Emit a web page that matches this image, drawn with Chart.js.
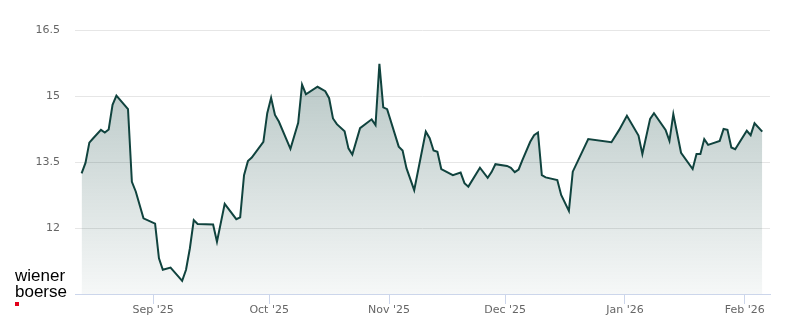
<!DOCTYPE html>
<html>
<head>
<meta charset="utf-8">
<script src="https://cdn.jsdelivr.net/npm/chart.js@4.4.1/dist/chart.umd.min.js"></script>
<style>
  html, body { margin: 0; padding: 0; background: #fff; }
  #wrap { position: relative; width: 800px; height: 324px; }
  #logo { position: absolute; left: 15px; top: 268px; font-family: "Liberation Sans", Arial, sans-serif; font-size: 17px; line-height: 16px; color: #000; }
  #logo .dot { position: absolute; left: 0; top: 34px; width: 4px; height: 4px; background: #e2001a; }
</style>
</head>
<body>
<div id="wrap">
  <canvas id="c" width="800" height="324"></canvas>
  <div id="logo">wiener<br>boerse<div class="dot"></div></div>
</div>
<script>
// Dates of the price points
const dates = [
  "2025-08-13","2025-08-14","2025-08-15","2025-08-16","2025-08-18","2025-08-19","2025-08-20","2025-08-21","2025-08-22","2025-08-25","2025-08-26","2025-08-27","2025-08-29",
  "2025-09-01","2025-09-02","2025-09-03","2025-09-05","2025-09-08","2025-09-09","2025-09-10","2025-09-11","2025-09-12","2025-09-16","2025-09-17","2025-09-19","2025-09-22","2025-09-23","2025-09-24","2025-09-25","2025-09-26","2025-09-29","2025-09-30",
  "2025-10-01","2025-10-02","2025-10-03","2025-10-06","2025-10-08","2025-10-09","2025-10-10","2025-10-13","2025-10-15","2025-10-16","2025-10-17","2025-10-18","2025-10-20","2025-10-21","2025-10-22","2025-10-24","2025-10-27","2025-10-28","2025-10-29","2025-10-30","2025-10-31",
  "2025-11-03","2025-11-04","2025-11-05","2025-11-07","2025-11-10","2025-11-11","2025-11-12","2025-11-13","2025-11-14","2025-11-17","2025-11-19","2025-11-20","2025-11-21","2025-11-24","2025-11-26","2025-11-27","2025-11-28",
  "2025-12-01","2025-12-02","2025-12-03","2025-12-04","2025-12-05","2025-12-07","2025-12-08","2025-12-09","2025-12-10","2025-12-11","2025-12-14","2025-12-15","2025-12-17","2025-12-18","2025-12-22","2025-12-28","2025-12-30",
  "2026-01-01","2026-01-04","2026-01-05","2026-01-07","2026-01-08","2026-01-11","2026-01-12","2026-01-13","2026-01-15","2026-01-18","2026-01-19","2026-01-20","2026-01-21","2026-01-22","2026-01-25","2026-01-26","2026-01-27","2026-01-28","2026-01-29",
  "2026-02-01","2026-02-02","2026-02-03","2026-02-05"
];
// Closing prices
const prices = [
  13.24,13.48,13.94,14.04,14.23,14.17,14.24,14.80,15.01,14.70,13.05,12.83,12.22,
  12.10,11.31,11.05,11.10,10.80,11.05,11.54,12.18,12.09,12.08,11.69,12.55,12.20,12.24,13.20,13.52,13.60,13.96,14.61,
  14.96,14.57,14.42,13.80,14.39,15.26,15.04,15.21,15.11,14.95,14.49,14.36,14.20,13.81,13.67,14.27,14.47,14.34,15.73,14.74,14.70,
  13.85,13.76,13.36,12.86,14.19,14.04,13.76,13.73,13.34,13.20,13.26,13.02,12.94,13.37,13.14,13.27,13.45,
  13.41,13.37,13.27,13.33,13.55,13.96,14.11,14.17,13.20,13.15,13.09,12.75,12.39,13.28,14.02,13.95,14.23,
  14.55,14.10,13.68,14.48,14.61,14.23,13.98,14.59,13.71,13.34,13.68,13.68,14.02,13.89,13.98,14.25,14.23,13.83,13.79,
  14.21,14.11,14.38,14.19
];
// X-axis ticks (month starts) and labels
const tickDates = ["2025-09-01","2025-10-01","2025-11-01","2025-12-01","2026-01-01","2026-02-01"];
const tickLabels = ["Sep '25","Oct '25","Nov '25","Dec '25","Jan '26","Feb '26"];
// Y-axis ticks
const yTicks = [10.5, 12, 13.5, 15, 16.5];
const yTickLabels = ["", "12", "13.5", "15", "16.5"];
const xRange = ["2025-08-11T19:00", "2026-02-07T12:00"];

function toMs(s, noon) {
  const p = s.split(/[-T:]/).map(Number);
  return Date.UTC(p[0], p[1] - 1, p[2], p.length > 3 ? p[3] : (noon ? 12 : 0), p.length > 4 ? p[4] : 0);
}
const points = dates.map((d, i) => ({ x: toMs(d, true), y: prices[i] }));
const tickMs = tickDates.map(d => toMs(d, false));

const lineColor = "rgb(16,67,62)";
new Chart(document.getElementById("c"), {
  type: "line",
  data: {
    datasets: [{
      data: points,
      borderColor: lineColor,
      borderWidth: 2,
      pointRadius: 0,
      tension: 0,
      fill: "start",
      backgroundColor: (ctx) => {
        const ca = ctx.chart.chartArea;
        if (!ca) return "rgba(16,67,62,0.2)";
        const g = ctx.chart.ctx.createLinearGradient(0, ca.top, 0, ca.bottom);
        g.addColorStop(0, "rgba(16,67,62,0.34)");
        g.addColorStop(1, "rgba(16,67,62,0.04)");
        return g;
      }
    }]
  },
  options: {
    responsive: false,
    animation: false,
    devicePixelRatio: 1,
    layout: { padding: { top: 30, right: 30, left: 0, bottom: 0 } },
    plugins: { legend: { display: false }, tooltip: { enabled: false } },
    scales: {
      x: {
        type: "linear",
        min: toMs(xRange[0], false),
        max: toMs(xRange[1], false),
        afterBuildTicks: (s) => { s.ticks = tickMs.map(v => ({ value: v })); },
        afterFit: (s) => { s.height = 30; },
        ticks: {
          autoSkip: false,
          maxRotation: 0,
          padding: 0,
          color: "#666666",
          font: { family: "DejaVu Sans", size: 11 },
          callback: (v) => { const i = tickMs.indexOf(v); return i >= 0 ? tickLabels[i] : ""; }
        },
        grid: { drawOnChartArea: false, tickLength: 10, color: "#ccd6eb", lineWidth: 1 },
        border: { display: true, color: "#ccd6eb", width: 1 }
      },
      y: {
        min: yTicks[0],
        max: yTicks[yTicks.length - 1],
        afterBuildTicks: (s) => { s.ticks = yTicks.map(v => ({ value: v })); },
        afterFit: (s) => { s.width = 75; },
        ticks: {
          padding: 15,
          color: "#666666",
          font: { family: "DejaVu Sans", size: 11 },
          callback: (v) => { const i = yTicks.indexOf(v); return i >= 0 ? yTickLabels[i] : ""; }
        },
        grid: { drawTicks: false, color: "#e6e6e6", lineWidth: 1 },
        border: { display: false }
      }
    }
  }
});
</script>
</body>
</html>
